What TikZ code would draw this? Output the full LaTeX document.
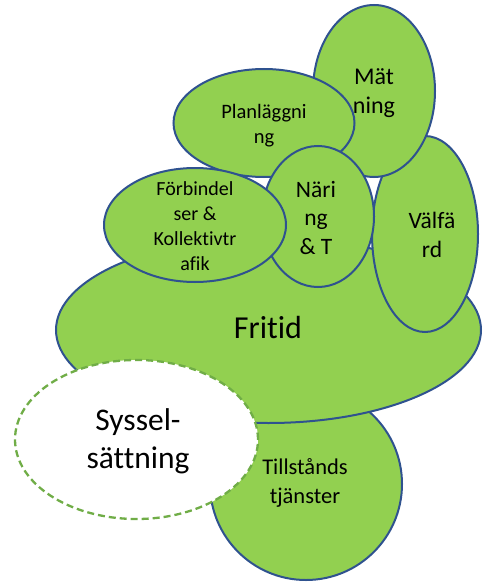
\documentclass[tikz,border=0pt]{standalone}
\usepackage{fontspec}
\setmainfont{Carlito}[Ligatures=NoCommon]
\usetikzlibrary{shapes.geometric}
\definecolor{blobfill}{HTML}{92D050}
\definecolor{blobline}{HTML}{2F528F}
\definecolor{dashline}{HTML}{70AD47}
\tikzset{
  blob/.style={ellipse, draw=blobline, fill=blobfill, line width=2pt, inner sep=0pt, outer sep=0pt},
  lbl/.style={align=center, inner sep=0pt, text=black},
}
\begin{document}
\begin{tikzpicture}[x=1pt,y=-1pt]
\useasboundingbox (0,0) rectangle (488,583);
\node[blob, minimum width=192pt, minimum height=192pt] (till) at (306,484) {};
\node[blob, minimum width=425pt, minimum height=186pt] (fri) at (268.5,330) {};
\node[blob, minimum width=106pt, minimum height=196pt] (val) at (425,234) {};
\node[blob, minimum width=122pt, minimum height=172pt] (mat) at (374,91) {};
\node[blob, minimum width=181pt, minimum height=108pt] (plan) at (264,123) {};
\node[blob, minimum width=112pt, minimum height=141pt] (nar) at (318,216.5) {};
\node[blob, minimum width=182pt, minimum height=114pt] (forb) at (195,225) {};
\node[ellipse, draw=dashline, fill=white, line width=2.3pt, dash pattern=on 7pt off 4pt, inner sep=0pt, minimum width=243pt, minimum height=159pt] (sys) at (136.5,439.5) {};
\node[lbl, font=\fontsize{24}{29}\selectfont] (tmat) at (374,93) {Mät\\ning};
\node[lbl, font=\fontsize{20.5}{25}\selectfont] (tplan) at (264,125.5) {Planläggni\\ng};
\node[lbl, font=\fontsize{20}{25}\selectfont] (tforb) at (195,226) {Förbindel\\ser \&\\Kollektivtr\\afik};
\node[lbl, font=\fontsize{23.5}{28.5}\selectfont] (tnar) at (316,218) {Näri\\ng\\\& T};
\node[lbl, font=\fontsize{23.5}{28.5}\selectfont] (tval) at (432,235) {Välfä\\rd};
\node[lbl, font=\fontsize{32}{38}\selectfont] (tfri) at (268,328) {Fritid};
\node[lbl, font=\fontsize{31.5}{38}\selectfont] (tsys) at (138,441) {Syssel-\\sättning};
\node[lbl, font=\fontsize{22.5}{29}\selectfont] (ttill) at (305,483) {Tillstånds\\tjänster};
\end{tikzpicture}
\end{document}
